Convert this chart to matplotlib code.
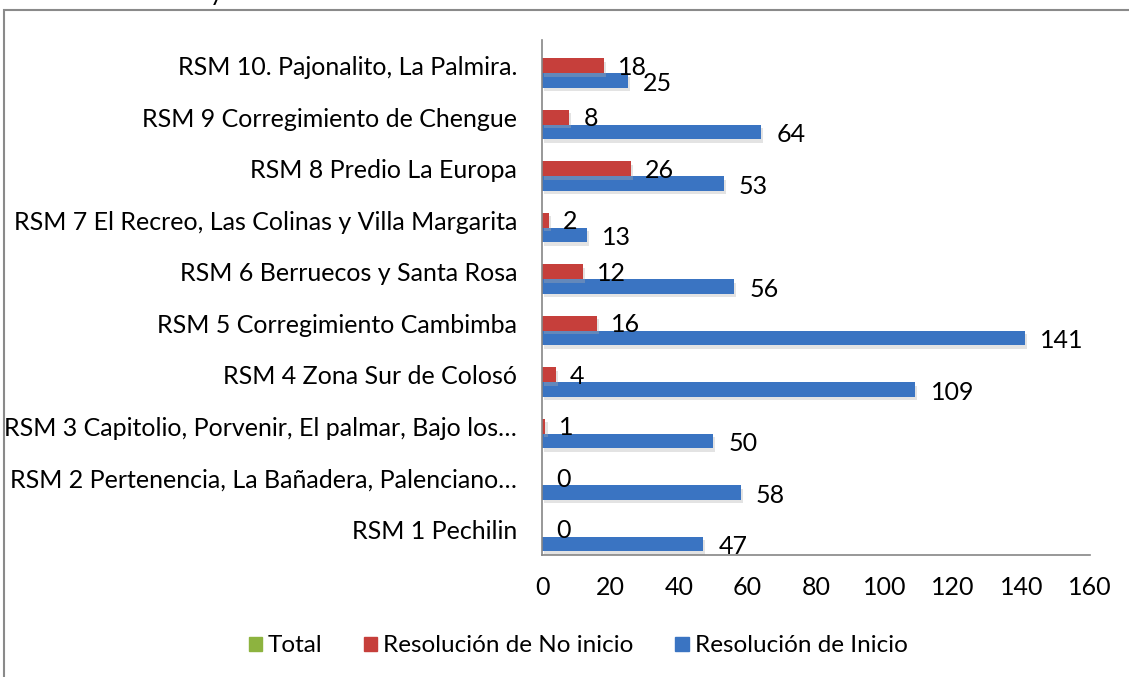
import matplotlib.pyplot as plt
import matplotlib.patheffects as pe
from matplotlib.patches import Patch, Rectangle
import numpy as np

plt.rcParams['font.family'] = ['Lato', 'DejaVu Sans']

# data, bottom category first
categories = [
    'RSM 1 Pechilin',
    'RSM 2 Pertenencia, La Bañadera, Palenciano…',
    'RSM 3 Capitolio, Porvenir, El palmar, Bajo los…',
    'RSM 4 Zona Sur de Colosó',
    'RSM 5 Corregimiento Cambimba',
    'RSM 6 Berruecos y Santa Rosa',
    'RSM 7 El Recreo, Las Colinas y Villa Margarita',
    'RSM 8 Predio La Europa',
    'RSM 9 Corregimiento de Chengue',
    'RSM 10. Pajonalito, La Palmira.',
]
inicio = [47, 58, 50, 109, 141, 56, 13, 53, 64, 25]
no_inicio = [0, 0, 1, 4, 16, 12, 2, 26, 8, 18]
total = [0, 0, 0, 0, 0, 0, 0, 0, 0, 0]
x_ticks = [0, 20, 40, 60, 80, 100, 120, 140, 160]

blue = '#3A74C2'
red = '#C63F3B'
green = '#8DB33F'

fig = plt.figure(figsize=(11.29, 6.77), dpi=100)
ax = fig.add_axes([542 / 1129, 1 - 555 / 677, 548 / 1129, 515 / 677])

y = np.arange(len(categories))
h = 0.283
shadow = [pe.SimplePatchShadow(offset=(1.5, -2.5), shadow_rgbFace='#b0b0b0', alpha=0.35),
          pe.Normal()]

bars_b = ax.barh(y - h, inicio, height=h, color=blue)
bars_r = ax.barh(y, no_inicio, height=h, color=red)
ax.barh(y + h, total, height=h, color=green)
for b in list(bars_b) + list(bars_r):
    b.set_path_effects(shadow)

for yi, v in zip(y, inicio):
    ax.annotate(str(v), (v, yi - h), xytext=(11, -2), textcoords='offset points',
                va='center', ha='left', fontsize=18)
for yi, v in zip(y, no_inicio):
    ax.annotate(str(v), (v, yi), xytext=(10, -1), textcoords='offset points',
                va='center', ha='left', fontsize=18)

ax.set_xlim(0, 160)
ax.set_ylim(-0.5, len(categories) - 0.5)
ax.set_xticks(x_ticks)
ax.set_xticklabels([str(t) for t in x_ticks], fontsize=18)
ax.set_yticks(y)
ax.set_yticklabels(categories, fontsize=18)
ax.tick_params(axis='both', length=0)
ax.tick_params(axis='x', pad=15)
ax.tick_params(axis='y', pad=18)
for s in ['top', 'right']:
    ax.spines[s].set_visible(False)
for s in ['left', 'bottom']:
    ax.spines[s].set_color('#868686')
    ax.spines[s].set_linewidth(1.2)

handles = [Patch(color=green), Patch(color=red), Patch(color=blue)]
fig.legend(handles, ['Total', 'Resolución de No inicio', 'Resolución de Inicio'],
           loc='center', bbox_to_anchor=(0.512, 1 - 646 / 677), ncol=3,
           frameon=False, fontsize=17.5, handlelength=0.55, handleheight=0.55,
           handletextpad=0.25, columnspacing=1.7)

# chart border (cut by image edges)
fig.patches.append(Rectangle((4 / 1129, -0.05), 1.1, 1 - 10 / 677 + 0.05,
                             transform=fig.transFigure, fill=False,
                             edgecolor='#8a8a8a', linewidth=1.5))
# clipped title remnant
fig.text(216 / 1129, 1 - 1 / 677, 'y', fontsize=18, ha='center', va='baseline')

fig.savefig('out.png', dpi=100)
